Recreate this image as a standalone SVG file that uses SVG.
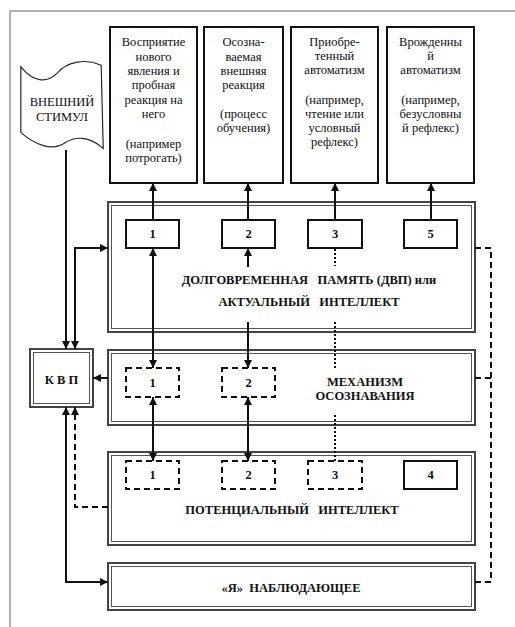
<svg xmlns="http://www.w3.org/2000/svg" width="515" height="627" viewBox="0 0 515 627">
<style>
text{font-family:"Liberation Serif","Times New Roman","DejaVu Serif",serif}
.t{font-size:12.5px;fill:#111;text-anchor:middle}
.b{font-size:12.5px;font-weight:bold;fill:#111;text-anchor:middle}
.box{fill:#fff;stroke:#111;stroke-width:2}
.dbo{fill:none;stroke:#444;stroke-width:2}
.dbi{fill:none;stroke:#555;stroke-width:1}
.dash{fill:none;stroke:#111;stroke-width:2;stroke-dasharray:6 4}
.ln{fill:none;stroke:#111;stroke-width:2}
.dot{fill:none;stroke:#111;stroke-width:2;stroke-dasharray:2 2}
</style>
<defs>
<marker id="ah" viewBox="0 0 10 10" refX="10" refY="5" markerWidth="4" markerHeight="4" orient="auto-start-reverse" markerUnits="strokeWidth">
<path d="M0,0 L10,5 L0,10 Z" fill="#111"/>
</marker>
</defs>
<rect width="515" height="627" fill="#fff"/>
<rect x="10" y="11" width="520" height="630" fill="none" stroke="#999" stroke-width="1.5"/>

<g id="stimulus">
<path d="M22,70 C34,84 48,84 58,74 C68,62 86,60 100,66 L102,146 C90,136 76,134 64,142 C52,150 36,144 22,132 Z" fill="#fff" stroke="#222" stroke-width="3.5"/>
<path d="M22,70 C34,84 48,84 58,74 C68,62 86,60 100,66 L102,146 C90,136 76,134 64,142 C52,150 36,144 22,132 Z" fill="#fff" stroke="#fff" stroke-width="1.2"/>
<text class="t" x="62" y="106">ВНЕШНИЙ</text>
<text class="t" x="62" y="121">СТИМУЛ</text>
</g>

<g id="top1">
<rect class="box" x="110" y="27" width="87" height="156"/>
<text class="t" x="153.5" y="46">Восприятие</text>
<text class="t" x="153.5" y="61">нового</text>
<text class="t" x="153.5" y="75">явления и</text>
<text class="t" x="153.5" y="89">пробная</text>
<text class="t" x="153.5" y="104">реакция на</text>
<text class="t" x="153.5" y="118">него</text>
<text class="t" x="153.5" y="148">(например</text>
<text class="t" x="153.5" y="162">потрогать)</text>
</g>
<g id="top2">
<rect class="box" x="204" y="27" width="79" height="156"/>
<text class="t" x="243.5" y="46">Осозна-</text>
<text class="t" x="243.5" y="61">ваемая</text>
<text class="t" x="243.5" y="75">внешняя</text>
<text class="t" x="243.5" y="89">реакция</text>
<text class="t" x="243.5" y="118">(процесс</text>
<text class="t" x="243.5" y="132">обучения)</text>
</g>
<g id="top3">
<rect class="box" x="291" y="27" width="87" height="156"/>
<text class="t" x="334.5" y="46">Приобре-</text>
<text class="t" x="334.5" y="60">тенный</text>
<text class="t" x="334.5" y="74">автоматизм</text>
<text class="t" x="334.5" y="104">(например,</text>
<text class="t" x="334.5" y="118">чтение или</text>
<text class="t" x="334.5" y="132">условный</text>
<text class="t" x="334.5" y="146">рефлекс)</text>
</g>
<g id="top4">
<rect class="box" x="387" y="27" width="87" height="156"/>
<text class="t" x="430.5" y="46">Врожденны</text>
<text class="t" x="430.5" y="60">й</text>
<text class="t" x="430.5" y="74">автоматизм</text>
<text class="t" x="430.5" y="104">(например,</text>
<text class="t" x="430.5" y="118">безусловны</text>
<text class="t" x="430.5" y="132">й рефлекс)</text>
</g>

<g id="dvp">
<rect x="108" y="202" width="367" height="130" fill="#fff"/>
<rect class="dbo" x="108" y="202" width="367" height="130"/>
<rect class="dbi" x="111.5" y="205.5" width="360" height="123"/>
<text class="b" x="309" y="284" xml:space="preserve">ДОЛГОВРЕМЕННАЯ   ПАМЯТЬ (ДВП) или</text>
<text class="b" x="309" y="306" xml:space="preserve">АКТУАЛЬНЫЙ   ИНТЕЛЛЕКТ</text>
</g>
<g id="dvp1"><rect class="box" x="126" y="220" width="53" height="28"/><text class="b" x="152.5" y="238">1</text></g>
<g id="dvp2"><rect class="box" x="222" y="220" width="53" height="28"/><text class="b" x="248.5" y="238">2</text></g>
<g id="dvp3"><rect class="box" x="308" y="220" width="54" height="28"/><text class="b" x="335" y="238">3</text></g>
<g id="dvp5"><rect class="box" x="404" y="220" width="53" height="28"/><text class="b" x="430.5" y="238">5</text></g>

<g id="mech">
<rect x="108" y="350" width="367" height="75" fill="#fff"/>
<rect class="dbo" x="108" y="350" width="367" height="75"/>
<rect class="dbi" x="111.5" y="353.5" width="360" height="68"/>
<text class="b" x="365" y="386">МЕХАНИЗМ</text>
<text class="b" x="365" y="400">ОСОЗНАВАНИЯ</text>
</g>
<g id="mech1"><rect class="dash" x="126" y="368" width="53" height="29"/><text class="b" x="152.5" y="387">1</text></g>
<g id="mech2"><rect class="dash" x="222" y="368" width="53" height="29"/><text class="b" x="248.5" y="387">2</text></g>

<g id="pot">
<rect x="108" y="452" width="367" height="93" fill="#fff"/>
<rect class="dbo" x="108" y="452" width="367" height="93"/>
<rect class="dbi" x="111.5" y="455.5" width="360" height="86"/>
<text class="b" x="292" y="514" xml:space="preserve">ПОТЕНЦИАЛЬНЫЙ   ИНТЕЛЛЕКТ</text>
</g>
<g id="pot1"><rect class="dash" x="126" y="461" width="53" height="28"/><text class="b" x="152.5" y="479">1</text></g>
<g id="pot2"><rect class="dash" x="222" y="461" width="53" height="28"/><text class="b" x="248.5" y="479">2</text></g>
<g id="pot3"><rect class="dash" x="308" y="461" width="54" height="28"/><text class="b" x="335" y="479">3</text></g>
<g id="pot4"><rect class="box" x="404" y="461" width="53" height="28"/><text class="b" x="430.5" y="479">4</text></g>

<g id="ya">
<rect x="108" y="563" width="367" height="47" fill="#fff"/>
<rect class="dbo" x="108" y="563" width="367" height="47"/>
<rect class="dbi" x="111.5" y="566.5" width="360" height="40"/>
<text class="b" x="291" y="592" xml:space="preserve">«Я»  НАБЛЮДАЮЩЕЕ</text>
</g>

<g id="kvp">
<rect x="30" y="349" width="63" height="58" fill="#fff"/>
<rect class="dbo" x="30" y="349" width="63" height="58"/>
<rect class="dbi" x="33.5" y="352.5" width="56" height="51"/>
<text class="b" x="61.5" y="384">К В П</text>
</g>

<g id="connectors">
<line class="ln" x1="66" y1="150" x2="66" y2="349" marker-end="url(#ah)"/>
<path class="ln" d="M75,349 L75,248 L108,248" marker-start="url(#ah)" marker-end="url(#ah)"/>
<line class="ln" x1="153" y1="220" x2="153" y2="183" marker-end="url(#ah)"/>
<line class="ln" x1="248" y1="220" x2="248" y2="183" marker-end="url(#ah)"/>
<line class="ln" x1="335" y1="220" x2="335" y2="183" marker-end="url(#ah)"/>
<line class="ln" x1="431" y1="220" x2="431" y2="183" marker-end="url(#ah)"/>
<line class="ln" x1="248" y1="267" x2="248" y2="248" marker-end="url(#ah)"/>
<line class="ln" x1="248" y1="322" x2="248" y2="368" marker-end="url(#ah)"/>
<line class="ln" x1="153" y1="248" x2="153" y2="368" marker-start="url(#ah)" marker-end="url(#ah)"/>
<line class="dot" x1="335" y1="249" x2="335" y2="266"/>
<line class="dot" x1="335" y1="322" x2="335" y2="368"/>
<line class="dot" x1="335" y1="415" x2="335" y2="461"/>
<line class="ln" x1="108" y1="378" x2="93" y2="378" marker-end="url(#ah)"/>
<line class="ln" x1="153" y1="397" x2="153" y2="461" marker-start="url(#ah)" marker-end="url(#ah)"/>
<line class="ln" x1="248" y1="397" x2="248" y2="461" marker-start="url(#ah)" marker-end="url(#ah)"/>
<path class="dash" d="M108,507 L75,507 L75,407" marker-end="url(#ah)"/>
<path class="ln" d="M66,407 L66,582 L108,582" marker-start="url(#ah)" marker-end="url(#ah)"/>
<path class="dash" d="M475,248 L491,248 L491,582 L475,582"/>
<line class="dash" x1="475" y1="378" x2="491" y2="378"/>
</g>
</svg>
